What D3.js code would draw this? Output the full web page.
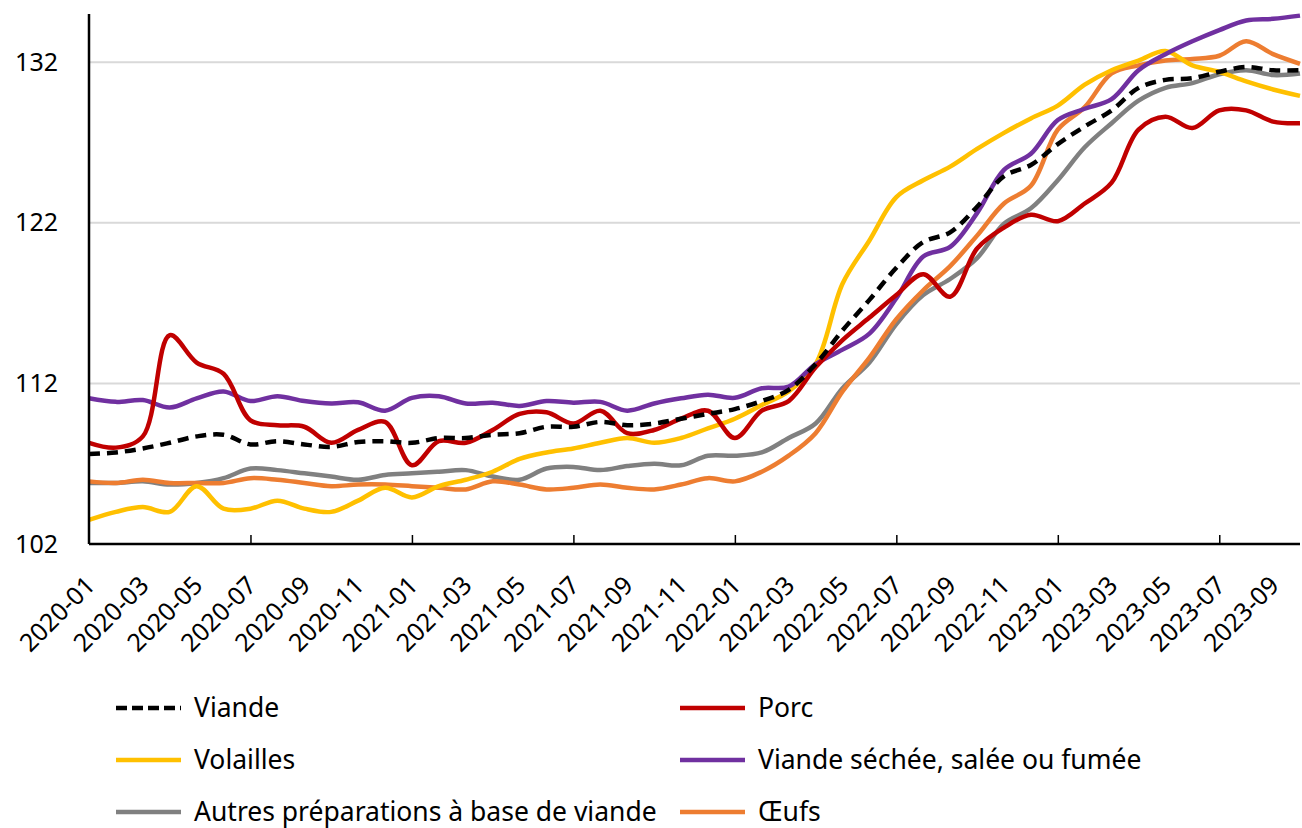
<!DOCTYPE html>
<html>
<head>
<meta charset="utf-8">
<script src="https://cdn.jsdelivr.net/npm/d3@7"></script>
<style>
  body { margin: 0; background: #fff; }
  svg { display: block; font-family: "Noto Sans", "Open Sans", sans-serif; }
</style>
</head>
<body>
<div id="chart"></div>
<script>
// months 2020-01 .. 2023-10
const months = [
  "2020-01","2020-02","2020-03","2020-04","2020-05","2020-06","2020-07","2020-08","2020-09","2020-10","2020-11","2020-12",
  "2021-01","2021-02","2021-03","2021-04","2021-05","2021-06","2021-07","2021-08","2021-09","2021-10","2021-11","2021-12",
  "2022-01","2022-02","2022-03","2022-04","2022-05","2022-06","2022-07","2022-08","2022-09","2022-10","2022-11","2022-12",
  "2023-01","2023-02","2023-03","2023-04","2023-05","2023-06","2023-07","2023-08","2023-09","2023-10"
];

const viande = [107.6,107.7,107.95,108.3,108.7,108.8,108.2,108.4,108.2,108.05,108.35,108.4,
  108.3,108.6,108.6,108.8,108.9,109.3,109.3,109.6,109.4,109.5,109.8,110.1,
  110.4,110.9,111.6,113.2,115.3,117.2,119.2,120.8,121.4,123.0,124.9,125.6,
  126.9,128.0,129.0,130.4,130.9,131.0,131.4,131.7,131.5,131.5];

const porc = [108.3,108.0,108.7,115.0,113.3,112.6,109.7,109.4,109.3,108.3,109.1,109.6,
  106.9,108.4,108.3,109.1,110.1,110.2,109.5,110.3,108.9,109.1,109.8,110.3,
  108.6,110.3,110.9,113.0,114.7,116.1,117.5,118.8,117.4,120.4,121.7,122.5,
  122.1,123.2,124.5,127.8,128.6,127.9,129.0,129.0,128.3,128.2];

const volailles = [103.5,104.0,104.3,104.0,105.6,104.2,104.2,104.7,104.2,104.0,104.7,105.5,
  104.9,105.6,106.0,106.5,107.3,107.7,107.95,108.3,108.6,108.3,108.6,109.2,
  109.8,110.65,111.5,113.2,118.2,120.9,123.6,124.65,125.5,126.6,127.6,128.5,
  129.3,130.6,131.5,132.1,132.7,131.8,131.4,130.8,130.3,129.9];

const sechee = [111.07,110.85,110.96,110.5,111.07,111.5,110.9,111.2,110.9,110.75,110.82,110.3,
  111.1,111.2,110.75,110.8,110.6,110.9,110.8,110.85,110.3,110.75,111.07,111.3,
  111.1,111.7,111.8,113.2,114.1,115.1,117.3,119.9,120.5,122.6,125.3,126.3,
  128.4,129.1,129.7,131.5,132.5,133.3,134.0,134.6,134.7,134.9];

const autres = [105.8,105.8,105.9,105.7,105.8,106.1,106.7,106.6,106.4,106.2,106.0,106.3,
  106.4,106.5,106.6,106.2,106.0,106.7,106.8,106.6,106.85,107.0,106.9,107.5,
  107.5,107.7,108.6,109.5,111.7,113.3,115.7,117.5,118.5,119.8,121.95,122.9,
  124.65,126.7,128.2,129.6,130.4,130.7,131.25,131.5,131.2,131.3];

const oeufs = [105.9,105.8,106.0,105.8,105.8,105.8,106.1,106.0,105.8,105.6,105.7,105.7,
  105.6,105.5,105.4,105.9,105.7,105.4,105.5,105.7,105.5,105.4,105.7,106.1,
  105.9,106.5,107.5,108.9,111.5,113.6,116.0,117.8,119.3,121.2,123.2,124.3,
  127.8,129.2,131.3,131.8,132.1,132.2,132.4,133.3,132.5,131.9];

const yTicks = [102, 112, 122, 132];

const series = [
  { name: "Autres préparations à base de viande", values: autres, color: "#808080" },
  { name: "Œufs", values: oeufs, color: "#ED7D31" },
  { name: "Volailles", values: volailles, color: "#FFC000" },
  { name: "Viande séchée, salée ou fumée", values: sechee, color: "#7030A0" },
  { name: "Porc", values: porc, color: "#C00000" },
  { name: "Viande", values: viande, color: "#000000", dash: "11,7" }
];

// legend order (two columns, as in the source)
const legendOrder = ["Viande", "Porc", "Volailles", "Viande séchée, salée ou fumée",
  "Autres préparations à base de viande", "Œufs"];

const width = 1302, height = 828;
const margin = { top: 14, right: 2, bottom: 284, left: 89 };

const svg = d3.select("#chart").append("svg")
  .attr("width", width)
  .attr("height", height);

const x = d3.scalePoint()
  .domain(months)
  .range([margin.left, width - margin.right]);

const y = d3.scaleLinear()
  .domain([102, 135])
  .range([height - margin.bottom, margin.top]);

// gridlines
svg.append("g")
  .selectAll("line")
  .data(yTicks.filter(d => d > 102))
  .join("line")
    .attr("x1", margin.left)
    .attr("x2", width - margin.right)
    .attr("y1", d => y(d))
    .attr("y2", d => y(d))
    .attr("stroke", "#d9d9d9")
    .attr("stroke-width", 2);

// lines
const line = d3.line()
  .x((d, i) => x(months[i]))
  .y(d => y(d))
  .curve(d3.curveCatmullRom.alpha(0.5));

svg.append("g")
  .selectAll("path")
  .data(series)
  .join("path")
    .attr("fill", "none")
    .attr("stroke", d => d.color)
    .attr("stroke-width", 4.5)
    .attr("stroke-linejoin", "round")
    .attr("stroke-dasharray", d => d.dash || null)
    .attr("d", d => line(d.values));

// y axis
function yAxis(g) {
  g.attr("transform", `translate(${margin.left},0)`)
    .call(d3.axisLeft(y).tickValues(yTicks).tickSize(0).tickPadding(31))
    .attr("font-size", "25px")
    .attr("font-family", null);
  g.select(".domain").attr("stroke", "#000").attr("stroke-width", 2.5)
    .attr("d", `M0,${margin.top}V${y(102)}`);
  g.selectAll("text").attr("fill", "#000");
}

// x axis: labels every 2 months, tick marks every 6 months
function xAxis(g) {
  g.attr("transform", `translate(0,${y(102)})`)
    .call(d3.axisBottom(x)
      .tickValues(months.filter((m, i) => i % 2 === 0))
      .tickSize(0))
    .attr("font-size", "25px")
    .attr("font-family", null);
  g.select(".domain").attr("stroke", "#000").attr("stroke-width", 2.5)
    .attr("d", `M${margin.left},0H${width - margin.right}`);
  g.selectAll("text")
    .attr("fill", "#000")
    .attr("text-anchor", "end")
    .attr("dy", null)
    .attr("y", 0)
    .attr("transform", "translate(7,43) rotate(-45)");
}

function xTicks(g) {
  g.attr("transform", `translate(0,${y(102)})`)
    .call(d3.axisBottom(x)
      .tickValues(months.filter((m, i) => i > 0 && i % 6 === 0))
      .tickSize(-9)
      .tickFormat(""));
  g.select(".domain").remove();
  g.selectAll("line").attr("stroke", "#000").attr("stroke-width", 1.5);
}

svg.append("g").call(xTicks);
svg.append("g").call(xAxis);
svg.append("g").call(yAxis);

// legend
const legend = svg.append("g")
  .attr("font-size", "26.5px");

const legendItems = legend.selectAll("g")
  .data(legendOrder.map(n => series.find(s => s.name === n)))
  .join("g")
    .attr("transform", (d, i) => `translate(${i % 2 === 0 ? 116 : 680},${708 + Math.floor(i / 2) * 52})`);

legendItems.append("line")
  .attr("x1", 0).attr("x2", 65)
  .attr("stroke", d => d.color)
  .attr("stroke-width", 4.5)
  .attr("stroke-dasharray", d => d.dash ? "11,5" : null);

legendItems.append("text")
  .attr("x", 78)
  .attr("dy", "0.35em")
  .text(d => d.name);
</script>
</body>
</html>
